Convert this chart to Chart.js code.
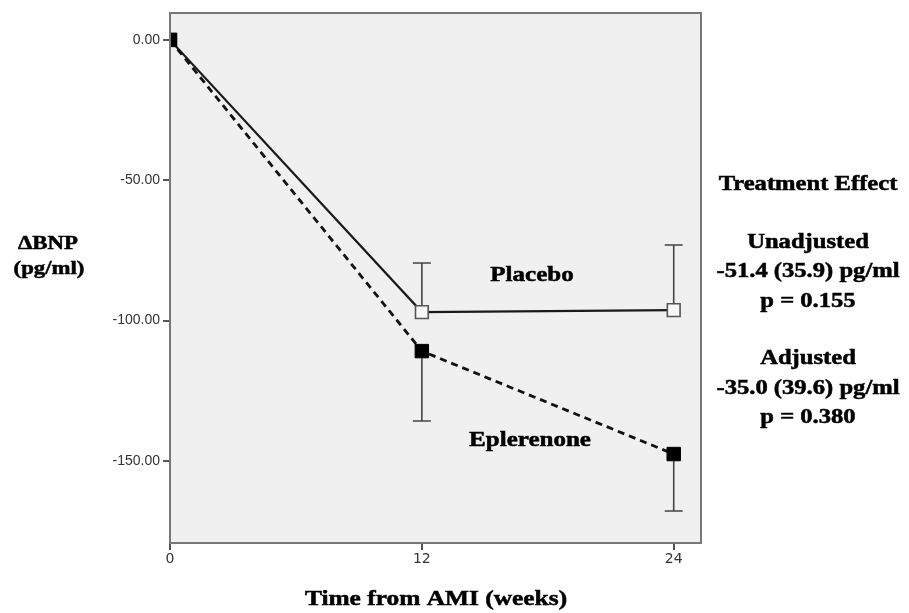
<!DOCTYPE html>
<html>
<head>
<meta charset="utf-8">
<script src="https://cdn.jsdelivr.net/npm/chart.js@4"></script>
<style>
  html, body { margin: 0; padding: 0; background: #fff; }
  canvas { display: block; }
</style>
</head>
<body>
<canvas id="bnpChart" width="909" height="613"></canvas>
<script>
// data
const WEEKS = [0, 12, 24];
const Y_TICKS = [-150, -100, -50, 0];
const placebo = [0, -97.0, -96.3];
const placeboUpper = [null, -79.5, -73.1];   // only upper whisker shown
const eplerenone = [0, -110.9, -147.6];
const eplerenoneLower = [null, -135.8, -167.9]; // only lower whisker shown
const effectLines = [
  "Treatment Effect", "",
  "Unadjusted", "-51.4 (35.9) pg/ml", "p = 0.155", "",
  "Adjusted", "-35.0 (39.6) pg/ml", "p = 0.380"
];

const SERIF = '"Liberation Serif", "Times New Roman", serif';
const AXIS_GREY = "#777";

// stretched bold serif text, like the scanned figure
function wideText(ctx, txt, x, y, size, sx) {
  ctx.save();
  ctx.translate(x, y);
  ctx.scale(sx, 1);
  ctx.font = `bold ${size}px ${SERIF}`;
  ctx.fillStyle = "#000";
  ctx.strokeStyle = "#000";
  ctx.lineWidth = 0.5;
  ctx.textAlign = "center";
  ctx.textBaseline = "middle";
  ctx.fillText(txt, 0, 0);
  ctx.strokeText(txt, 0, 0);
  ctx.restore();
}

const plotBox = {
  id: "plotBox",
  beforeDraw(chart) {
    const { ctx, chartArea: a } = chart;
    ctx.save();
    ctx.fillStyle = "#f0f0f0";
    ctx.fillRect(a.left, a.top, a.right - a.left, a.bottom - a.top);
    ctx.restore();
  },
  afterDraw(chart) {
    const { ctx, chartArea: a } = chart;
    ctx.save();
    ctx.strokeStyle = AXIS_GREY;
    ctx.lineWidth = 2;
    ctx.strokeRect(a.left, a.top, a.right - a.left, a.bottom - a.top);
    ctx.restore();
  }
};

// one-sided error bars, drawn behind the markers
const whiskers = {
  id: "whiskers",
  beforeDatasetsDraw(chart) {
    const { ctx, scales: { x, y } } = chart;
    const draw = (vals, ends) => {
      vals.forEach((v, i) => {
        if (ends[i] == null) return;
        const px = x.getPixelForValue(WEEKS[i]);
        const y0 = y.getPixelForValue(v);
        const y1 = y.getPixelForValue(ends[i]);
        ctx.beginPath();
        ctx.moveTo(px, y0);
        ctx.lineTo(px, y1);
        ctx.moveTo(px - 9, y1);
        ctx.lineTo(px + 9, y1);
        ctx.stroke();
      });
    };
    ctx.save();
    ctx.strokeStyle = "#444";
    ctx.lineWidth = 1.6;
    draw(placebo, placeboUpper);
    draw(eplerenone, eplerenoneLower);
    ctx.restore();
  }
};

const labels = {
  id: "labels",
  afterDraw(chart) {
    const { ctx } = chart;
    wideText(ctx, "Placebo", 532, 276, 20, 1.25);
    wideText(ctx, "Eplerenone", 530, 441, 20, 1.25);
    wideText(ctx, "\u0394BNP", 48, 244, 19, 1.2);
    wideText(ctx, "(pg/ml)", 49, 269, 19, 1.2);
    wideText(ctx, "Time from AMI (weeks)", 436, 600, 20, 1.27);
    let yy = 185;
    effectLines.forEach(t => {
      if (t) wideText(ctx, t, 808, yy, 20, 1.23);
      yy += t ? 29.3 : 28.5;
    });
  }
};

new Chart(document.getElementById("bnpChart"), {
  type: "line",
  data: {
    datasets: [
      {
        label: "Eplerenone",
        data: WEEKS.map((w, i) => ({ x: w, y: eplerenone[i] })),
        borderColor: "#111",
        borderWidth: 2.8,
        borderDash: [7, 5],
        pointStyle: "rect",
        pointRadius: 9.5,
        pointBackgroundColor: "#000",
        pointBorderColor: "#000",
        pointBorderWidth: 1
      },
      {
        label: "Placebo",
        data: WEEKS.map((w, i) => ({ x: w, y: placebo[i] })),
        borderColor: "#1a1a1a",
        borderWidth: 2.2,
        pointStyle: "rect",
        pointRadius: 9,
        pointBackgroundColor: "#f7f7f7",
        pointBorderColor: "#555",
        pointBorderWidth: 1.6
      }
    ]
  },
  options: {
    responsive: false,
    animation: false,
    layout: { padding: { top: 13, right: 208, left: 0, bottom: 0 } },
    plugins: { legend: { display: false }, tooltip: { enabled: false } },
    scales: {
      x: {
        type: "linear",
        min: 0,
        max: 25.3,
        afterBuildTicks: s => { s.ticks = WEEKS.map(v => ({ value: v })); },
        afterFit: s => { s.height = 70; },
        grid: { drawOnChartArea: false, drawTicks: true, tickLength: 7, color: "#555", lineWidth: 2 },
        border: { display: false },
        ticks: {
          color: "#333",
          padding: 1,
          maxRotation: 0,
          font: { family: '"DejaVu Sans", sans-serif', size: 14 },
          callback: v => String(v)
        }
      },
      y: {
        min: -179.3,
        max: 9.6,
        afterBuildTicks: s => { s.ticks = Y_TICKS.map(v => ({ value: v })); },
        afterFit: s => { s.width = 170; },
        grid: { drawOnChartArea: false, drawTicks: true, tickLength: 7, color: "#555", lineWidth: 2 },
        border: { display: false },
        ticks: {
          color: "#333",
          padding: 3,
          font: { family: '"Liberation Sans", Arial, sans-serif', size: 14 },
          callback: v => Number(v).toFixed(2)
        }
      }
    }
  },
  plugins: [plotBox, whiskers, labels]
});
</script>
</body>
</html>
